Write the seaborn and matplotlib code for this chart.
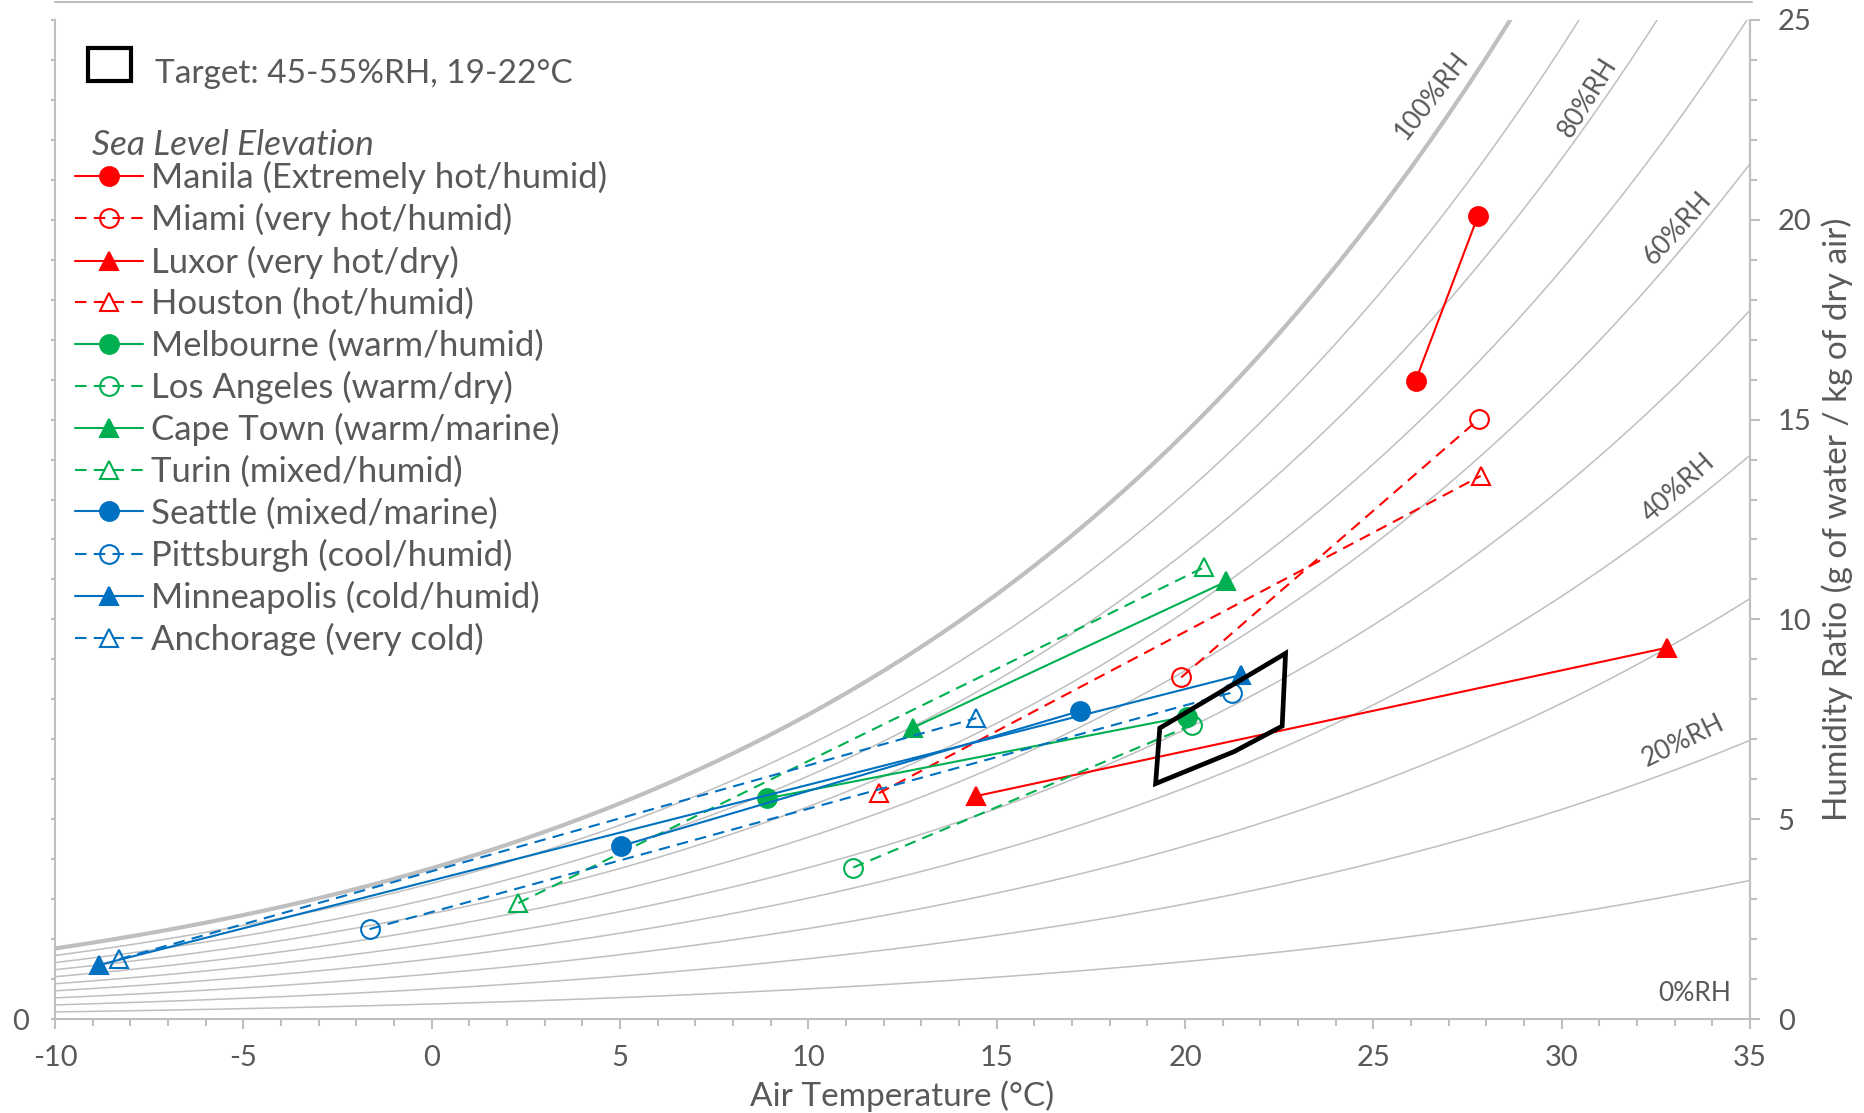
import numpy as np
import pandas as pd
import seaborn as sns
import matplotlib.pyplot as plt
from matplotlib.lines import Line2D
from matplotlib.patches import Polygon, Rectangle
from matplotlib.ticker import MultipleLocator

# -------- data --------
cities = ["Manila (Extremely hot/humid)", "Miami (very hot/humid)", "Luxor (very hot/dry)",
          "Houston (hot/humid)", "Melbourne (warm/humid)", "Los Angeles (warm/dry)",
          "Cape Town (warm/marine)", "Turin (mixed/humid)", "Seattle (mixed/marine)",
          "Pittsburgh (cool/humid)", "Minneapolis (cold/humid)", "Anchorage (very cold)"]
temp_low = [26.12, 19.9, 14.46, 11.87, 8.91, 11.19, 12.78, 2.3, 5.03, -1.65, -8.84, -8.29]
ratio_low = [15.97, 8.55, 5.58, 5.65, 5.52, 3.79, 7.29, 2.9, 4.33, 2.25, 1.35, 1.5]
temp_high = [27.78, 27.8, 32.79, 27.85, 20.04, 20.19, 21.1, 20.5, 17.22, 21.25, 21.48, 14.46]
ratio_high = [20.1, 15.01, 9.29, 13.59, 7.57, 7.36, 10.95, 11.3, 7.71, 8.17, 8.61, 7.53]

# target zone outline (45-55%RH, 19-22C)
target_t = [19.22, 19.33, 22.67, 22.58, 21.3]
target_w = [5.89, 7.28, 9.15, 7.33, 6.69]

rh_levels = [10, 20, 30, 40, 50, 60, 70, 80, 90, 100]
rh_labels = ["100%RH", "80%RH", "60%RH", "40%RH", "20%RH", "0%RH"]

# -------- styles --------
RED, GREEN, BLUE = "#FF0000", "#00B050", "#0070C0"
GRID = "#BFBFBF"
TXT = "#595959"
colors = [RED] * 4 + [GREEN] * 4 + [BLUE] * 4
markers = ["o", "o", "^", "^"] * 3
filled = [True, False, True, False] * 3
dashed = (0, (5.5, 3.5))

sns.set_style("ticks")
plt.rcParams["font.family"] = ["Lato", "DejaVu Sans"]
plt.rcParams["text.color"] = TXT
plt.rcParams["axes.unicode_minus"] = False

fig = plt.figure(figsize=(18.65, 11.13), dpi=100)
ax = fig.add_axes([55 / 1865, 94 / 1113, 1695 / 1865, 999 / 1113])

# -------- RH curves (sea level) --------
temps = np.linspace(-10, 35, 181)
p_sat = 0.61094 * np.exp(17.625 * temps / (temps + 243.04))
frames = []
for rh in rh_levels:
    pv = rh / 100 * p_sat
    frames.append(pd.DataFrame({"t": temps, "w": 622 * pv / (101.325 - pv), "rh": rh}))
curves = pd.concat(frames)
sns.lineplot(data=curves[curves.rh < 100], x="t", y="w", units="rh", estimator=None,
             sort=False, color=GRID, lw=1.1, ax=ax, legend=False)
sns.lineplot(data=curves[curves.rh == 100], x="t", y="w", estimator=None,
             sort=False, color=GRID, lw=3.0, ax=ax, legend=False)

# -------- cities --------
handles = []
for i, name in enumerate(cities):
    c = colors[i]
    ls = "-" if filled[i] else dashed
    kw = dict(color=c, ls=ls, lw=1.5, marker=markers[i], ms=13.5,
              mfc=c if filled[i] else "none", mec=c, mew=1.5)
    sns.lineplot(x=[temp_low[i], temp_high[i]], y=[ratio_low[i], ratio_high[i]],
                 sort=False, estimator=None, ax=ax, legend=False, **kw)
    handles.append(Line2D([], [], **kw))

ax.add_patch(Polygon(list(zip(target_t, target_w)), closed=True, fill=False,
                     ec="black", lw=3.4, joinstyle="miter", zorder=5))

# -------- RH labels --------
lab_pos = [(26.55, 23.1, 52), (30.68, 23.05, 58), (33.07, 19.8, 48),
           (33.1, 13.3, 42), (33.23, 6.95, 26), (33.54, 0.64, 0)]
for txt, (x, y, r) in zip(rh_labels, lab_pos):
    ax.text(x, y, txt, rotation=r, rotation_mode="anchor", ha="center", va="center",
            fontsize=19, color=TXT)

# -------- axes --------
ax.set_xlim(-10, 35)
ax.set_ylim(0, 25)
ax.set_xlabel("")
ax.set_ylabel("")
for s in ["left", "bottom", "right"]:
    ax.spines[s].set_color(GRID)
    ax.spines[s].set_linewidth(1.5)
ax.spines["top"].set_visible(False)

ax.xaxis.set_major_locator(MultipleLocator(5))
ax.xaxis.set_minor_locator(MultipleLocator(1))
ax.tick_params(axis="x", which="major", direction="out", length=7, width=1.5, color=GRID,
               labelsize=21, labelcolor=TXT, pad=12)
ax.tick_params(axis="x", which="minor", direction="out", length=5, width=1.5, color=GRID)

ax.set_yticks(range(0, 26))
ax.set_yticklabels(["0"] + [""] * 25)
ax.tick_params(axis="y", which="major", direction="out", length=3, width=1.5, color=GRID,
               labelsize=21, labelcolor=TXT, pad=16)

ax2 = ax.twinx()
ax2.set_ylim(0, 25)
for s in ["left", "bottom", "top"]:
    ax2.spines[s].set_visible(False)
ax2.spines["right"].set_color(GRID)
ax2.spines["right"].set_linewidth(1.5)
ax2.yaxis.set_major_locator(MultipleLocator(5))
ax2.yaxis.set_minor_locator(MultipleLocator(1))
ax2.tick_params(axis="y", which="major", direction="out", length=7, width=1.5, color=GRID,
                labelsize=21, labelcolor=TXT, pad=13)
ax2.tick_params(axis="y", which="minor", direction="out", length=5, width=1.5, color=GRID)

ax.set_xlabel("Air Temperature (°C)", fontsize=24, color=TXT, va="center")
ax.xaxis.set_label_coords(0.5, -77 / 999)
ax2.set_ylabel("Humidity Ratio (g of water / kg of dry air)", fontsize=24, color=TXT,
               rotation=90, va="center")
ax2.yaxis.set_label_coords(1782 / 1695, 0.5)

# -------- legend --------
fig.add_artist(Rectangle((88 / 1865, 1 - 81 / 1113), 43 / 1865, 33 / 1113, fill=False,
                         ec="black", lw=3.0, transform=fig.transFigure))
fig.text(155 / 1865, 1 - 74 / 1113, "Target: 45-55%RH, 19-22°C", fontsize=24,
         va="center", ha="left", color=TXT)
fig.text(92 / 1865, 1 - 145 / 1113, "Sea Level Elevation", fontsize=25.5, style="italic",
         va="center", ha="left", color=TXT)
ax.legend(handles, cities, loc="upper left", bbox_to_anchor=(75 / 1865, 1 - 161 / 1113),
          bbox_transform=fig.transFigure, frameon=False, fontsize=25, handlelength=1.96,
          handletextpad=0.23, labelspacing=0.265, borderpad=0, borderaxespad=0)

fig.add_artist(Line2D([55 / 1865, 1752 / 1865], [1 - 1.5 / 1113] * 2, color=GRID, lw=1.5,
                      transform=fig.transFigure))

fig.savefig("out.png", dpi=100)
